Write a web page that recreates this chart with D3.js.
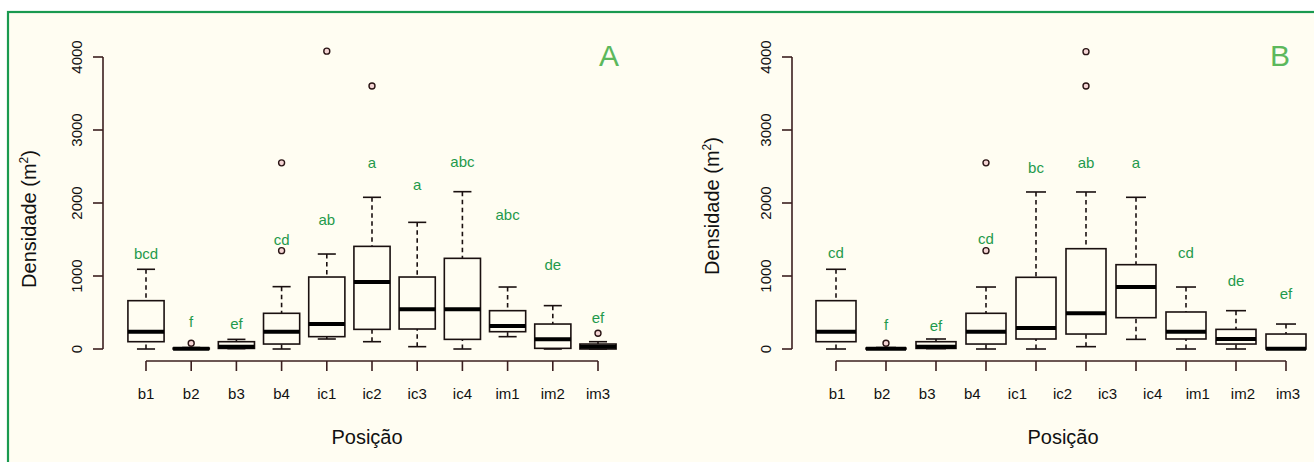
<!DOCTYPE html>
<html><head><meta charset="utf-8">
<script src="https://cdn.jsdelivr.net/npm/d3@7"></script>
<style>
html,body{margin:0;padding:0;background:#fff;}
svg{display:block;font-family:"Liberation Sans",Arial,sans-serif;}
</style></head>
<body>
<svg id="chart" width="1314" height="462"></svg>
<script>
// ---------- data ----------
const tickLabels = ["b1","b2","b3","b4","ic1","ic2","ic3","ic4","im1","im2","im3"];
const yTicks = [0,1000,2000,3000,4000];

// Panel A (11 boxes)
const keysA    = ["b1","b2","b3","b4","ic1","ic2","ic3","ic4","im1","im2","im3"];
const loA      = [0,   0,   5,   0,   137, 100, 32,  0,   169, 0,   0];
const q1A      = [100, 0,   8,   68,  169, 269, 274, 132, 237, 9,   0];
const medA     = [237, 3,   32,  237, 342, 918, 543, 543, 315, 132, 32];
const q3A      = [662, 12,  100, 489, 986, 1406,986, 1242,525, 342, 68];
const hiA      = [1092,20,  132, 854, 1301,2078,1735,2155,849, 594, 100];
const outA     = [[],[78],[],[1347,2550],[4080],[3603],[],[],[],[],[215]];
const lettersA = ["bcd","f","ef","cd","ab","a","a","abc","abc","de","ef"];
const letterYA = [1301,374,342,1493,1767,2558,2247,2566,1836,1151,429];

// Panel B (10 boxes drawn, 11 tick labels)
const keysB    = ["b1","b2","b3","b4","ic1","ic2","ic3","im1","im2","im3"];
const loB      = [0,   0,   5,   0,   0,   32,  132, 0,   0,   0];
const q1B      = [100, 0,   8,   68,  137, 205, 429, 137, 68,  0];
const medB     = [237, 3,   32,  237, 288, 489, 849, 237, 137, 3];
const q3B      = [662, 12,  100, 489, 982, 1374,1155,507, 269, 205];
const hiB      = [1092,20,  137, 849, 2151,2151,2078,849, 525, 342];
const outB     = [[],[78],[],[1347,2550],[],[4073,3603],[],[],[],[]];
const lettersB = ["cd","f","ef","cd","bc","ab","a","cd","de","ef"];
const letterYB = [1315,329,315,1507,2484,2552,2548,1319,932,753];

// ---------- styles ----------
const axisCol = "#3b1f1f", boxCol = "#1a1010", green = "#1f9a4c", panelGreen = "#5cb85c";

const svg = d3.select("#chart");
svg.append("rect").attr("x",0).attr("y",0).attr("width",1314).attr("height",462).attr("fill","#ffffff");
svg.append("rect").attr("x",8).attr("y",12).attr("width",1320).attr("height",470)
  .attr("fill","#fffdf2").attr("stroke","#1a9a50").attr("stroke-width",2.2);

function panel(cfg){
  const g = svg.append("g");
  const y = d3.scaleLinear().domain([0,4000]).range([349,57]);
  const xb = d3.scalePoint().domain(cfg.keys).range(cfg.xRange);
  const xl = d3.scalePoint().domain(tickLabels).range(cfg.labelRange);
  const bw = xb.step()*0.8;

  // y axis
  g.append("line").attr("x1",cfg.yAxisX).attr("x2",cfg.yAxisX).attr("y1",y(0)).attr("y2",y(4000))
    .attr("stroke",axisCol).attr("stroke-width",1.6);
  yTicks.forEach(t=>{
    g.append("line").attr("x1",cfg.yAxisX-10).attr("x2",cfg.yAxisX).attr("y1",y(t)).attr("y2",y(t))
      .attr("stroke",axisCol).attr("stroke-width",1.6);
    g.append("text").attr("transform",`translate(${cfg.yAxisX-21},${y(t)}) rotate(-90)`)
      .attr("text-anchor","middle").attr("font-size",15).attr("fill","#111").text(t);
  });
  const yl = g.append("text").attr("transform",`translate(${cfg.yLabelX},${cfg.yLabelY}) rotate(-90)`)
    .attr("text-anchor","middle").attr("font-size",20).attr("fill","#111");
  yl.append("tspan").text("Densidade (m");
  yl.append("tspan").attr("font-size",12).attr("dy",-8).text("2");
  yl.append("tspan").attr("dy",8).text(")");

  // x axis
  g.append("line").attr("x1",cfg.xRange[0]).attr("x2",cfg.xRange[1]).attr("y1",361).attr("y2",361)
    .attr("stroke",axisCol).attr("stroke-width",1.6);
  cfg.keys.forEach(k=>{
    g.append("line").attr("x1",xb(k)).attr("x2",xb(k)).attr("y1",361).attr("y2",371)
      .attr("stroke",axisCol).attr("stroke-width",1.6);
  });
  tickLabels.forEach(k=>{
    g.append("text").attr("x",xl(k)).attr("y",399).attr("text-anchor","middle")
      .attr("font-size",15).attr("fill","#111").text(k);
  });
  g.append("text").attr("x",cfg.xTitleX).attr("y",444).attr("text-anchor","middle")
    .attr("font-size",20).attr("fill","#111").text("Posição");

  // boxes
  cfg.keys.forEach((k,i)=>{
    const cx = xb(k);
    // whiskers dashed
    [[cfg.hi[i],cfg.q3[i]],[cfg.lo[i],cfg.q1[i]]].forEach(([a,b])=>{
      if(Math.abs(y(a)-y(b))>0.5)
        g.append("line").attr("x1",cx).attr("x2",cx).attr("y1",y(a)).attr("y2",y(b))
          .attr("stroke",boxCol).attr("stroke-width",1.6).attr("stroke-dasharray","4.5,3.5");
      g.append("line").attr("x1",cx-bw/4).attr("x2",cx+bw/4).attr("y1",y(a)).attr("y2",y(a))
        .attr("stroke",boxCol).attr("stroke-width",1.6);
    });
    g.append("rect").attr("x",cx-bw/2).attr("y",y(cfg.q3[i])).attr("width",bw)
      .attr("height",Math.max(0.5,y(cfg.q1[i])-y(cfg.q3[i])))
      .attr("fill","#fffdf2").attr("stroke",boxCol).attr("stroke-width",1.6);
    g.append("line").attr("x1",cx-bw/2).attr("x2",cx+bw/2).attr("y1",y(cfg.med[i])).attr("y2",y(cfg.med[i]))
      .attr("stroke","#000").attr("stroke-width",4);
    cfg.out[i].forEach(o=>{
      g.append("circle").attr("cx",cx).attr("cy",y(o)).attr("r",3)
        .attr("fill","#f4d4d4").attr("stroke","#2a1515").attr("stroke-width",1.4);
    });
    g.append("text").attr("x",cx).attr("y",y(cfg.letterY[i])).attr("dy","0.36em")
      .attr("text-anchor","middle").attr("font-size",15).attr("fill",green).text(cfg.letters[i]);
  });

  g.append("text").attr("x",cfg.tagX).attr("y",66).attr("text-anchor","middle")
    .attr("font-size",30).attr("fill",panelGreen).text(cfg.tag);
}

panel({keys:keysA, lo:loA, q1:q1A, med:medA, q3:q3A, hi:hiA, out:outA, letters:lettersA, letterY:letterYA,
  xRange:[146,598], labelRange:[146,598], yAxisX:103, yLabelX:36, yLabelY:219, xTitleX:367, tag:"A", tagX:609});
panel({keys:keysB, lo:loB, q1:q1B, med:medB, q3:q3B, hi:hiB, out:outB, letters:lettersB, letterY:letterYB,
  xRange:[836,1286], labelRange:[837,1288], yAxisX:792, yLabelX:719, yLabelY:206, xTitleX:1063, tag:"B", tagX:1280});
</script>
</body></html>
